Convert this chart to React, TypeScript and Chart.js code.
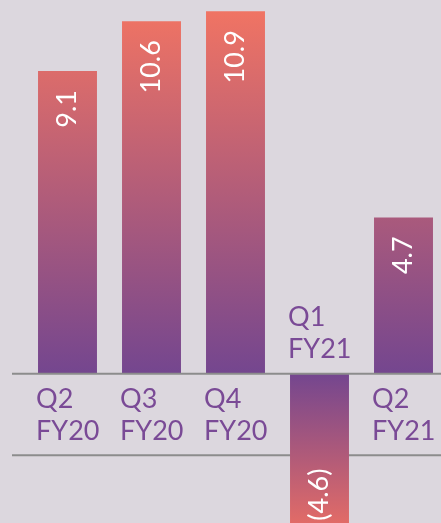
import React, { useEffect, useRef } from "react";
import { Chart, registerables } from "chart.js";

Chart.register(...registerables);

// ---- data ----
const categoryLines: string[][] = [
  ["Q2", "FY20"],
  ["Q3", "FY20"],
  ["Q4", "FY20"],
  ["Q1", "FY21"],
  ["Q2", "FY21"],
];
const values: number[] = [9.1, 10.6, 10.9, -4.6, 4.7];
const ruleValues: number[] = [0, -2.45];

// ---- styles ----
const BG = "#dcd7de";
const CORAL = "#f47562";
const PURPLE = "#74468f";
const NEG_END = "#e46c66";
const TEXT_PURPLE = "#7a4a96";
const LINE = "#8c8c8c";
const FONT_FAMILY = "Lato, 'Open Sans', sans-serif";

function fmt(v: number): string {
  return v < 0 ? `(${Math.abs(v).toFixed(1)})` : v.toFixed(1);
}

const rulesPlugin = {
  id: "rules",
  beforeDatasetsDraw(chart: any) {
    drawRules(chart, false);
  },
  afterDatasetsDraw(chart: any) {
    drawRules(chart, true);
  },
};

function drawRules(chart: any, zeroOnly: boolean) {
  const { ctx, chartArea, scales } = chart;
  ctx.save();
  ctx.strokeStyle = LINE;
  ctx.lineWidth = 2;
  for (const v of ruleValues) {
    if ((v === 0) !== zeroOnly) continue;
    const y = scales.y.getPixelForValue(v);
    ctx.beginPath();
    ctx.moveTo(chartArea.left - 13.5, y);
    ctx.lineTo(chart.width, y);
    ctx.stroke();
  }
  ctx.restore();
}

const labelsPlugin = {
  id: "barLabels",
  afterDatasetsDraw(chart: any) {
    const { ctx, scales } = chart;
    const meta = chart.getDatasetMeta(0);
    const y0 = scales.y.getPixelForValue(0);
    meta.data.forEach((el: any, i: number) => {
      const v = values[i];
      const props = el.getProps(["x", "y", "width"], true);
      // value label, rotated
      ctx.save();
      ctx.fillStyle = "#ffffff";
      ctx.font = `27px ${FONT_FAMILY}`;
      ctx.textBaseline = "middle";
      if (v >= 0) {
        ctx.translate(props.x, props.y + 19);
        ctx.rotate(-Math.PI / 2);
        ctx.textAlign = "right";
      } else {
        ctx.translate(props.x, props.y - 6);
        ctx.rotate(-Math.PI / 2);
        ctx.textAlign = "left";
      }
      ctx.fillText(fmt(v), 0, 0);
      ctx.restore();

      // category label
      ctx.save();
      ctx.fillStyle = TEXT_PURPLE;
      ctx.font = `27px ${FONT_FAMILY}`;
      ctx.textAlign = "left";
      ctx.textBaseline = "alphabetic";
      const left = props.x - props.width / 2 - 2;
      const lines = categoryLines[i];
      const base = v >= 0 ? y0 + 34.5 : y0 - 47.5;
      lines.forEach((t, k) => ctx.fillText(t, left, base + k * 32));
      ctx.restore();
    });
  },
};

export default function App() {
  const canvasRef = useRef<HTMLCanvasElement | null>(null);

  useEffect(() => {
    document.body.style.background = BG;
    document.body.style.margin = "0";
    const canvas = canvasRef.current;
    if (!canvas) return;
    const chart = new Chart(canvas, {
      type: "bar",
      data: {
        labels: categoryLines.map((c) => c.join(" ")),
        datasets: [
          {
            data: values,
            backgroundColor: (c: any) => {
              const ch = c.chart;
              const { chartArea, scales } = ch;
              if (!chartArea || !scales.y) return PURPLE;
              const y0 = scales.y.getPixelForValue(0);
              const v = c.raw as number;
              if (v >= 0) {
                const g = ch.ctx.createLinearGradient(0, chartArea.top, 0, y0);
                g.addColorStop(0, CORAL);
                g.addColorStop(1, PURPLE);
                return g;
              }
              const yb = scales.y.getPixelForValue(v);
              const g = ch.ctx.createLinearGradient(0, y0, 0, yb);
              g.addColorStop(0, PURPLE);
              g.addColorStop(1, NEG_END);
              return g;
            },
            borderWidth: 0,
            categoryPercentage: 1,
            barPercentage: 0.702,
          },
        ],
      },
      options: {
        animation: false,
        responsive: true,
        maintainAspectRatio: false,
        layout: { padding: { left: 25.5, right: 0.5, top: 0, bottom: 0 } },
        plugins: {
          legend: { display: false },
          tooltip: { enabled: false },
        },
        scales: {
          x: { display: false, offset: true },
          y: { display: false, min: -5, max: 11.236 },
        },
      },
      plugins: [rulesPlugin, labelsPlugin],
    });
    return () => chart.destroy();
  }, []);

  return (
    <div
      style={{
        position: "fixed",
        left: 0,
        top: 0,
        width: 441,
        height: 523,
        overflow: "hidden",
        background: BG,
      }}
    >
      <div style={{ position: "absolute", left: 0, top: 0, width: 446, height: 540 }}>
        <canvas ref={canvasRef} />
      </div>
    </div>
  );
}
